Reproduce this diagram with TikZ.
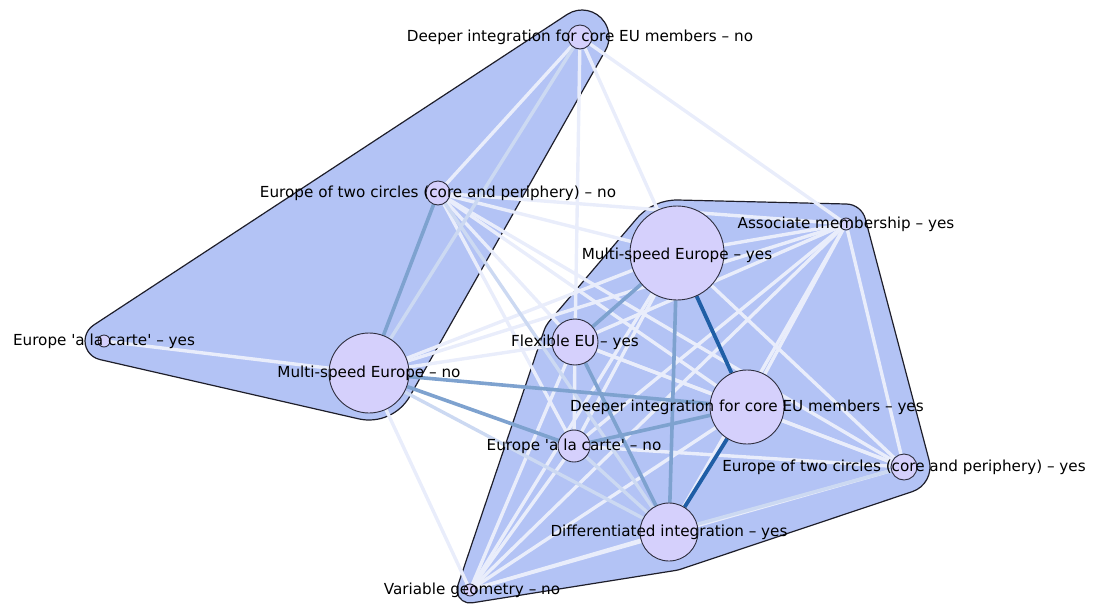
\documentclass[tikz,border=0pt]{standalone}
\usepackage{fontspec}
\newfontfamily\lblfont{DejaVu Sans}
\pgfdeclarelayer{hulls}
\pgfdeclarelayer{links}
\pgfsetlayers{hulls,links,main}

\definecolor{hullfill}{HTML}{B3C3F5}
\definecolor{hullline}{HTML}{1E1E2A}
\definecolor{vfill}{HTML}{D5D0FC}
\definecolor{vline}{HTML}{2E2E3E}
\definecolor{lkw}{HTML}{E9EDFB}
\definecolor{lkl}{HTML}{CCD9F2}
\definecolor{lkm}{HTML}{7EA2CF}
\definecolor{lkd}{HTML}{1F5EA6}

% outer tangent between two padded circles: normal angle of the hull side
\newcommand\hulltan[7]{%
  \pgfmathsetmacro\hullth{atan2((#6)-(#3),(#5)-(#2))}%
  \pgfmathsetmacro\hulld{veclen((#5)-(#2),(#6)-(#3))}%
  \pgfmathsetmacro\hullphi{\hullth-acos(((#4)-(#7))/\hulld)}%
  \expandafter\xdef\csname hang#1\endcsname{\hullphi}}
% sweep of the rounded corner between two hull sides
\newcommand\hullarc[3]{%
  \pgfmathsetmacro\hulldel{mod((#3)-(#2)+720,360)}%
  \expandafter\xdef\csname hdel#1\endcsname{\hulldel}}

\tikzset{
  vtx/.style={circle, draw=vline, line width=0.9pt, fill=vfill, inner sep=0pt, minimum size=#1},
  lbl/.style={font=\lblfont\fontsize{15.2}{17}\selectfont, text=black, inner sep=0pt},
  hullshape/.style={fill=hullfill, draw=hullline, line width=1.2pt, line join=round},
  lw/.style={draw=lkw, line width=3.4pt},
  ll/.style={draw=lkl, line width=3.4pt},
  lm/.style={draw=lkm, line width=3.6pt},
  ld/.style={draw=lkd, line width=3.8pt},
}

\begin{document}
\begin{tikzpicture}[x=1pt, y=-1pt]
\path[use as bounding box] (0,0) rectangle (1097,603);

% ---- concepts ----
\node[vtx=24pt] (dino) at (580,37) {};
\node[vtx=24pt] (tcno) at (438,193) {};
\node[vtx=12pt] (alcy) at (104,341) {};
\node[vtx=80pt] (msno) at (369,373) {};
\node[vtx=94pt] (msy)  at (677,253) {};
\node[vtx=12pt] (amy)  at (846,224) {};
\node[vtx=46pt] (flex) at (575,342) {};
\node[vtx=74pt] (diy)  at (747,407) {};
\node[vtx=32pt] (alcn) at (574,446) {};
\node[vtx=26pt] (tcy)  at (904,467) {};
\node[vtx=58pt] (dify) at (669,532) {};
\node[vtx=12pt] (vgn)  at (470,590) {};

\node[lbl] (dino-t) at (dino.center) {Deeper integration for core EU members – no};
\node[lbl] (tcno-t) at (tcno.center) {Europe of two circles (core and periphery) – no};
\node[lbl] (alcy-t) at (alcy.center) {Europe 'a la carte' – yes};
\node[lbl] (msno-t) at (msno.center) {Multi-speed Europe – no};
\node[lbl] (msy-t)  at ([yshift=-2pt]msy.center)  {Multi-speed Europe – yes};
\node[lbl] (amy-t)  at (amy.center)  {Associate membership – yes};
\node[lbl] (flex-t) at (flex.center) {Flexible EU – yes};
\node[lbl] (diy-t)  at (diy.center)  {Deeper integration for core EU members – yes};
\node[lbl] (alcn-t) at (alcn.center) {Europe 'a la carte' – no};
\node[lbl] (tcy-t)  at (tcy.center)  {Europe of two circles (core and periphery) – yes};
\node[lbl] (dify-t) at (dify.center) {Differentiated integration – yes};
\node[lbl] (vgn-t)  at ([xshift=2pt]vgn.center) {Variable geometry – no};

% ---- cluster hulls ----
\hulltan{ab}{582}{37}{27}{369}{373}{47}
\hulltan{bc}{369}{373}{47}{104}{341}{19}
\hulltan{ca}{104}{341}{19}{582}{37}{27}
\hullarc{a}{\hangca}{\hangab}
\hullarc{b}{\hangab}{\hangbc}
\hullarc{c}{\hangbc}{\hangca}

\hulltan{pq}{677}{253}{53}{846}{224}{20}
\hulltan{qr}{846}{224}{20}{904}{467}{26}
\hulltan{rs}{904}{467}{26}{669}{532}{39}
\hulltan{st}{669}{532}{39}{470}{590}{13}
\hulltan{tu}{470}{590}{13}{575}{342}{33}
\hulltan{up}{575}{342}{33}{677}{253}{53}
\hullarc{p}{\hangup}{\hangpq}
\hullarc{q}{\hangpq}{\hangqr}
\hullarc{r}{\hangqr}{\hangrs}
\hullarc{s}{\hangrs}{\hangst}
\hullarc{t}{\hangst}{\hangtu}
\hullarc{u}{\hangtu}{\hangup}

\begin{pgfonlayer}{hulls}
\path[hullshape]
  ([shift={(\hangca:27)}]582,37) arc[start angle=\hangca, delta angle=\hdela, radius=27]
  -- ([shift={(\hangab:47)}]369,373) arc[start angle=\hangab, delta angle=\hdelb, radius=47]
  -- ([shift={(\hangbc:19)}]104,341) arc[start angle=\hangbc, delta angle=\hdelc, radius=19]
  -- cycle;
\path[hullshape]
  ([shift={(\hangup:53)}]677,253) arc[start angle=\hangup, delta angle=\hdelp, radius=53]
  -- ([shift={(\hangpq:20)}]846,224) arc[start angle=\hangpq, delta angle=\hdelq, radius=20]
  -- ([shift={(\hangqr:26)}]904,467) arc[start angle=\hangqr, delta angle=\hdelr, radius=26]
  -- ([shift={(\hangrs:39)}]669,532) arc[start angle=\hangrs, delta angle=\hdels, radius=39]
  -- ([shift={(\hangst:13)}]470,590) arc[start angle=\hangst, delta angle=\hdelt, radius=13]
  -- ([shift={(\hangtu:33)}]575,342) arc[start angle=\hangtu, delta angle=\hdelu, radius=33]
  -- cycle;
\end{pgfonlayer}

% ---- co-occurrence links ----
\begin{pgfonlayer}{links}
\foreach \u/\v in {dino/tcno, dino/flex, dino/msy, dino/amy,
    tcno/msy, tcno/flex, tcno/diy, tcno/alcn, tcno/amy, tcno/tcy,
    msno/alcy, msno/msy, msno/amy, msno/flex, msno/vgn,
    msy/amy, msy/tcy, msy/vgn, msy/alcn,
    amy/flex, amy/diy, amy/alcn, amy/dify, amy/vgn, amy/tcy,
    flex/diy, flex/alcn, flex/vgn, flex/tcy,
    diy/tcy, diy/vgn, alcn/tcy, alcn/vgn, dify/vgn, tcy/vgn}
  \draw[lw] (\u) -- (\v);
\foreach \u/\v in {dino/msno, tcno/dify, msno/dify, alcn/dify, tcy/dify}
  \draw[ll] (\u) -- (\v);
\foreach \u/\v in {tcno/msno, msno/diy, msno/alcn, msy/dify, flex/dify, msy/flex, diy/alcn}
  \draw[lm] (\u) -- (\v);
\foreach \u/\v in {msy/diy, diy/dify}
  \draw[ld] (\u) -- (\v);
\end{pgfonlayer}
\end{tikzpicture}
\end{document}
